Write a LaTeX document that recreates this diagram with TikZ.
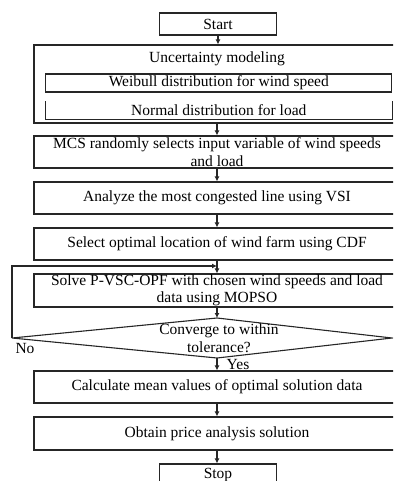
\documentclass[tikz,border=0pt]{standalone}
\usepackage{fontspec}
\setmainfont{Liberation Serif}
\usetikzlibrary{arrows.meta}
\definecolor{flow-line}{gray}{0.15}

\begin{document}
\begin{tikzpicture}[x=1pt,y=-1pt,line width=1.1pt,
    font=\fontsize{15.5}{17.5}\selectfont,
    box/.style={draw=flow-line,rectangle,inner sep=0pt,align=center,minimum width=366},
    arr/.style={draw=flow-line,-{Latex[length=5pt,width=5pt]}}]
    \useasboundingbox (0,0) rectangle (393,481);
    \clip (0,0) rectangle (393,481);
    % start and uncertainty block
    \node[box,minimum width=117,minimum height=22] (start) at (218,24) {Start};
    \node[box,minimum height=78] (unc) at (217,84) {};
    \node (unctxt) at (217,59) {Uncertainty modeling};
    \node[box,minimum width=346,minimum height=18] (weibull) at (218.8,83) {Weibull distribution for wind speed};
    \node[rectangle,inner sep=0pt,minimum width=346,minimum height=17] (normal) at (218.8,110.5) {Normal distribution for load};
    \draw[flow-line] (normal.north west) |- (normal.south east) -- (normal.north east);
    % main steps
    \node[box,minimum height=32] (mcs) at (217,152) {MCS randomly selects input variable of wind speeds\\and load};
    \node[box,minimum height=32] (analyze) at (217,198) {Analyze the most congested line using VSI};
    \node[box,minimum height=32] (select) at (217,244) {Select optimal location of wind farm using CDF};
    \node[box,minimum height=33] (solve) at (217,290.5) {Solve P-VSC-OPF with chosen wind speeds and load\\data using MOPSO};
    % decision
    \coordinate (dtop) at (217,318);
    \coordinate (dleft) at (12,338);
    \coordinate (dright) at (392,338);
    \coordinate (dbot) at (217,358);
    \draw[flow-line] (dtop) -- (dright) -- (dbot) -- (dleft) -- cycle;
    \node[align=center] (conv) at (219,338) {Converge to within\\tolerance?};
    \node[box,minimum height=32] (calc) at (217,387) {Calculate mean values of optimal solution data};
    \node[box,minimum height=33] (obtain) at (217,433.5) {Obtain price analysis solution};
    \node[box,minimum width=117,minimum height=22] (stop) at (218,475) {Stop};
    \node (no) at (25,348) {No};
    \node (yes) at (238,364) {Yes};
    % connectors
    \draw[arr] (start) -- (start |- unc.north);
    \draw[arr] (unc.south) -- (mcs.north);
    \draw[arr] (mcs) -- (analyze);
    \draw[arr] (analyze) -- (select);
    \draw[arr] (select) -- (solve);
    \draw[arr] (solve) -- (dtop);
    \draw[arr] (dbot) -- (calc);
    \draw[arr] (calc) -- (obtain);
    \draw[arr] (obtain.south) -- (obtain.south |- stop.north);
    \coordinate (loopin) at (217,266);
    \draw[arr] (dleft) |- (loopin);
\end{tikzpicture}
\end{document}
